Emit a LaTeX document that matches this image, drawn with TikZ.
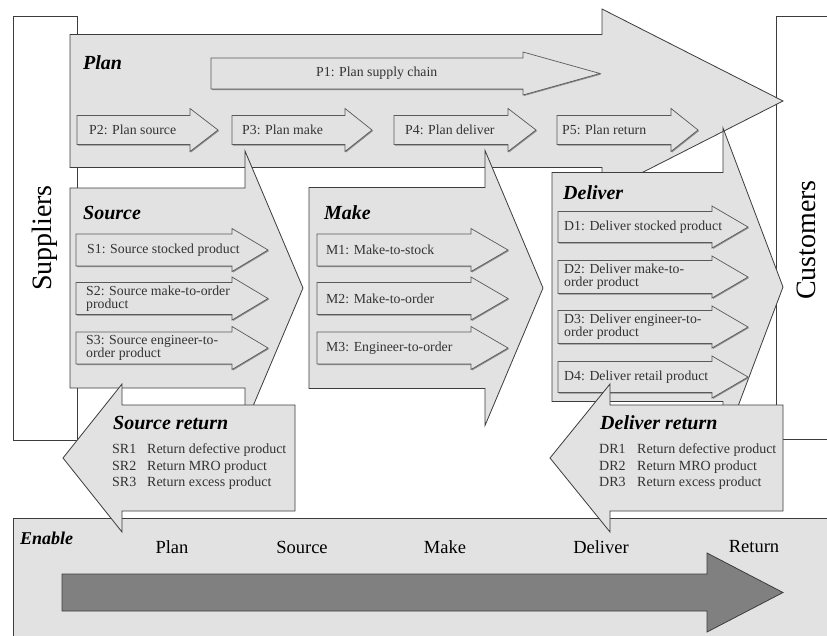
\documentclass[tikz,border=0pt]{standalone}
\usepackage{fontspec}
\setmainfont{Liberation Serif}
\usetikzlibrary{shadows}

\definecolor{panel}{HTML}{E2E2E2}
\definecolor{edge}{HTML}{3C3C3C}
\definecolor{subedge}{HTML}{5A5A5A}
\definecolor{enablefill}{HTML}{808080}
\definecolor{itemtext}{HTML}{333333}

% block arrow: style, tail x, head-back x, tip x, centre y, half shaft, half head
\newcommand\blockarrow[7]{%
  \path[#1] (#2,#5-#6) -- (#3,#5-#6) -- (#3,#5-#7) -- (#4,#5)
    -- (#3,#5+#7) -- (#3,#5+#6) -- (#2,#5+#6) -- cycle;}

\tikzset{
  stage/.style={fill=panel, draw=edge, line width=0.8pt, line join=miter},
  subarrow/.style={fill=panel, draw=subedge, line width=0.7pt,
    drop shadow={shadow xshift=1pt, shadow yshift=-1pt, fill=black!45, opacity=1}},
  partybox/.style={fill=white, draw=edge, line width=0.8pt},
  title/.style={font=\fontsize{20}{22}\selectfont\bfseries\itshape, anchor=west, inner sep=0pt},
  item/.style={font=\fontsize{13.8}{13}\selectfont, anchor=west, inner sep=0pt, align=left, text=itemtext},
  retitem/.style={font=\fontsize{14}{16.5}\selectfont, anchor=west, inner sep=0pt, align=left, text=itemtext},
  party/.style={font=\fontsize{28}{30}\selectfont, rotate=90, inner sep=0pt},
  enablelabel/.style={font=\fontsize{18.5}{20}\selectfont, inner sep=0pt},
}

\begin{document}
\begin{tikzpicture}[x=1pt, y=-1pt]
\useasboundingbox (0,0) rectangle (827,635);
\clip (0,0) rectangle (827,635);
\fill[white] (0,0) rectangle (827,635);

% suppliers and customers
\draw[partybox] (13,16) rectangle (77,440);
\draw[partybox] (776,16) rectangle (840,439);
\node[party] (suppliers) at (45,238) {Suppliers};
\node[party] (customers) at (806,240) {Customers};

% enable band
\draw[stage] (13,518) rectangle (840,650);
\node[title, font=\fontsize{18}{20}\selectfont\bfseries\itshape] (enable) at (20,538) {Enable};
\node[enablelabel] (eplan) at (172,547) {Plan};
\node[enablelabel] (esource) at (302,547) {Source};
\node[enablelabel] (emake) at (445,547) {Make};
\node[enablelabel] (edeliver) at (601,547) {Deliver};
\node[enablelabel] (ereturn) at (754,547) {Return};
\blockarrow{fill=enablefill, draw=edge, line width=0.8pt}{62}{707}{783}{592.5}{18.5}{39.5}

% plan
\blockarrow{stage}{70}{602}{783}{101}{66.5}{92}
\node[title] (plan) at (83,63) {Plan};
\blockarrow{subarrow}{211}{523}{600}{73.5}{15.5}{21.5}
\node[item] (p1) at (316,73.5) {P1: Plan supply chain};
\blockarrow{subarrow}{77}{190}{218}{130}{14.5}{21.5}
\node[item] (p2) at (89,130) {P2: Plan source};
\blockarrow{subarrow}{232}{345}{372}{130}{14.5}{21.5}
\node[item] (p3) at (242,130) {P3: Plan make};
\blockarrow{subarrow}{394}{508}{536}{130}{14.5}{21.5}
\node[item] (p4) at (405,130) {P4: Plan deliver};
\blockarrow{subarrow}{557}{671}{698}{130}{14.5}{21.5}
\node[item] (p5) at (562,130) {P5: Plan return};

% source
\blockarrow{stage}{70}{245}{303}{288}{100}{137}
\node[title] (source) at (83,213) {Source};
\blockarrow{subarrow}{76}{232}{268}{250}{16}{21.5}
\node[item] (s1) at (87,250) {S1: Source stocked product};
\blockarrow{subarrow}{76}{232}{268}{298.5}{16}{21.5}
\node[item] (s2) at (86,298.5) {S2: Source make-to-order\\product};
\blockarrow{subarrow}{76}{232}{268}{348}{16}{21.5}
\node[item] (s3) at (86,348) {S3: Source engineer-to-\\order product};

% make
\blockarrow{stage}{309}{485}{543}{288}{100.5}{137.5}
\node[title] (make) at (324,213) {Make};
\blockarrow{subarrow}{317}{471}{508}{250}{16}{21.5}
\node[item] (m1) at (326,250) {M1: Make-to-stock};
\blockarrow{subarrow}{317}{471}{508}{298.5}{16}{21.5}
\node[item] (m2) at (326,298.5) {M2: Make-to-order};
\blockarrow{subarrow}{317}{471}{508}{348}{16}{21.5}
\node[item] (m3) at (326,348) {M3: Engineer-to-order};

% deliver
\blockarrow{stage}{552}{723}{783}{287}{114.5}{159}
\node[title] (deliver) at (563,193) {Deliver};
\blockarrow{subarrow}{558}{712}{748}{227}{15.5}{21}
\node[item] (d1) at (564,227) {D1: Deliver stocked product};
\blockarrow{subarrow}{558}{712}{748}{277}{16.5}{21}
\node[item] (d2) at (564,277) {D2: Deliver make-to-\\order product};
\blockarrow{subarrow}{558}{712}{748}{327}{16.5}{21}
\node[item] (d3) at (564,327) {D3: Deliver engineer-to-\\order product};
\blockarrow{subarrow}{558}{712}{748}{377}{15.5}{21}
\node[item] (d4) at (564,377) {D4: Deliver retail product};

% returns
\blockarrow{stage}{295}{122}{63}{458}{53}{74}
\node[title] (sreturn) at (113,423) {Source return};
\node[retitem] (srlist) at (112,467) {%
  \makebox[35pt][l]{SR1}Return defective product\\
  \makebox[35pt][l]{SR2}Return MRO product\\
  \makebox[35pt][l]{SR3}Return excess product};

\blockarrow{stage}{783}{610}{550}{458}{53}{74}
\node[title] (dreturn) at (600,423) {Deliver return};
\node[retitem] (drlist) at (599,467) {%
  \makebox[38pt][l]{DR1}Return defective product\\
  \makebox[38pt][l]{DR2}Return MRO product\\
  \makebox[38pt][l]{DR3}Return excess product};
\end{tikzpicture}
\end{document}
